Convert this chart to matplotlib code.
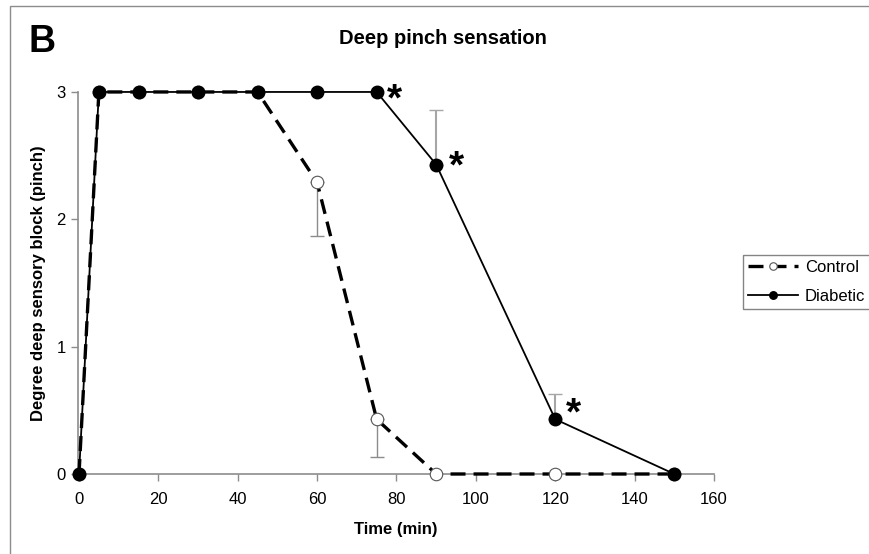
import numpy as np
import matplotlib
matplotlib.use("Agg")
import matplotlib.pyplot as plt
from matplotlib.patches import Rectangle

# data
time_min = [0, 5, 15, 30, 45, 60, 75, 90, 120, 150]
control = [0, 3, 3, 3, 3, 2.29, 0.43, 0, 0, 0]
diabetic = [0, 3, 3, 3, 3, 3, 3, 2.43, 0.43, 0]

# one-sided error bars (control: down, diabetic: up)
control_err_x = [60, 75]
control_err_y = [2.29, 0.43]
control_err_lo = [0.42, 0.30]
diabetic_err_x = [90, 120]
diabetic_err_y = [2.43, 0.43]
diabetic_err_hi = [0.43, 0.20]

# significance markers
star_x = [79.6, 95.2, 124.5]
star_y = [3.0, 2.47, 0.53]

x_ticks = [0, 20, 40, 60, 80, 100, 120, 140, 160]
y_ticks = [0, 1, 2, 3]

plt.rcParams['font.family'] = ['Liberation Sans', 'DejaVu Sans']

fig = plt.figure(figsize=(8.69, 5.54), dpi=100)
ax = fig.add_axes([0.0898, 0.1444, 0.7318, 0.6896])

grey = '#8c8c8c'

ax.errorbar(control_err_x, control_err_y, yerr=[control_err_lo, [0, 0]],
            fmt='none', ecolor=grey, elinewidth=1, capsize=5, capthick=1, zorder=1)
ax.errorbar(diabetic_err_x, diabetic_err_y, yerr=[[0, 0], diabetic_err_hi],
            fmt='none', ecolor='#a6a6a6', elinewidth=1.5, capsize=5, capthick=1, zorder=1)

ax.plot(time_min, control, color='black', lw=2.4, dashes=(4.5, 2.4),
        marker='o', ms=9, mfc='white', mec='#555555', mew=0.8,
        label='Control', clip_on=False, zorder=3)
ax.plot(time_min, diabetic, color='black', lw=1.3,
        marker='o', ms=9, mfc='black', mec='black',
        label='Diabetic', clip_on=False, zorder=4)

# asterisk glyph sits high in its box, so nudge it down a little
for sx, sy in zip(star_x, star_y):
    ax.annotate('*', (sx, sy), xytext=(0, -6), textcoords='offset points',
                fontsize=28, fontweight='bold', ha='center', va='center')

ax.set_xlim(-0.25, 160)
ax.set_ylim(0, 3)
ax.set_xticks(x_ticks)
ax.set_yticks(y_ticks)
ax.tick_params(axis='both', colors=grey, labelcolor='black', labelsize=12,
               length=5, width=1, direction='out')
ax.tick_params(axis='x', pad=8)
ax.tick_params(axis='y', pad=4)
for side in ('top', 'right'):
    ax.spines[side].set_visible(False)
for side in ('left', 'bottom'):
    ax.spines[side].set_color(grey)
    ax.spines[side].set_linewidth(1.2)

ax.set_xlabel('Time (min)', fontsize=12, fontweight='bold', labelpad=11)
ax.set_ylabel('Degree deep sensory block (pinch)', fontsize=12, fontweight='bold', labelpad=7)

fig.text(443 / 869, 1 - 38 / 554, 'Deep pinch sensation', fontsize=14.5,
         fontweight='bold', ha='center', va='center')
fig.text(28 / 869, 1 - 42 / 554, 'B', fontsize=27, fontweight='bold',
         ha='left', va='center')

leg = fig.legend(loc='upper left', bbox_to_anchor=(743 / 869, 1 - 255 / 554),
                 fontsize=12, frameon=True, fancybox=False, markerscale=0.6,
                 handlelength=3.0, handletextpad=0.4, borderpad=0.3,
                 labelspacing=0.85, borderaxespad=0)
leg.get_frame().set_edgecolor('#666666')
leg.get_frame().set_linewidth(1)

fig.add_artist(Rectangle((10 / 869, -0.2), 1.2, 0.2 + 1 - 6 / 554,
                         transform=fig.transFigure, fill=False,
                         edgecolor='#8c8c8c', lw=1))

fig.savefig('out.png', dpi=100)
